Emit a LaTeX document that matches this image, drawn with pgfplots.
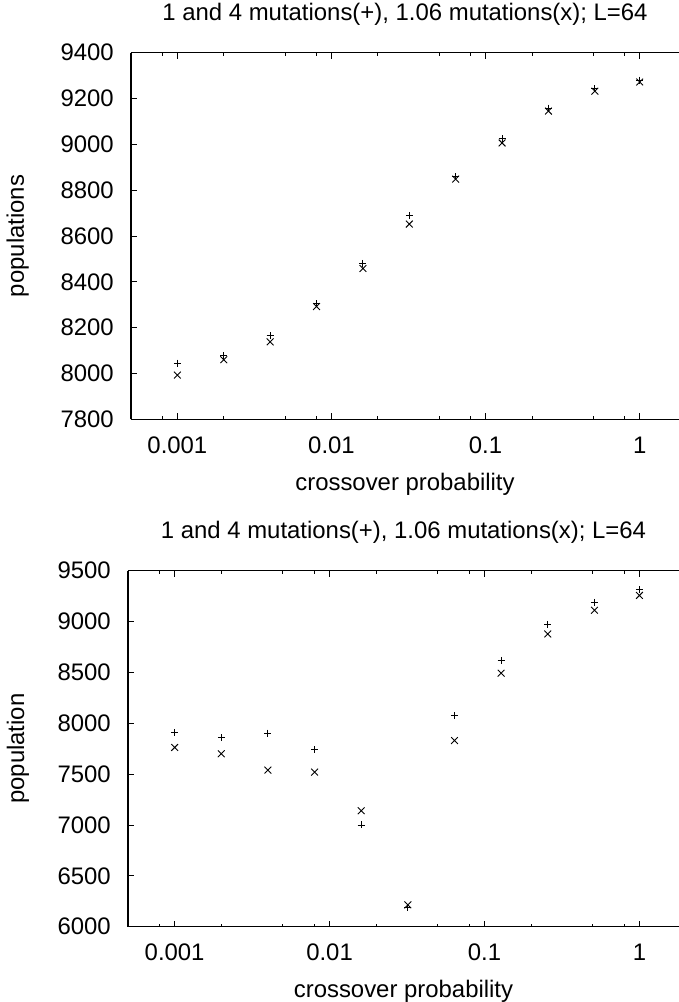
\documentclass[border=0pt]{standalone}
\usepackage{fontspec}
\setmainfont{Liberation Sans}
\usepackage{pgfplots}
\pgfplotsset{compat=1.18}

\pgfplotstableread{
x      y
0.001  8045
0.002  8078
0.004  8165
0.008  8305
0.016  8480
0.032  8688
0.064  8858
0.128  9025
0.256  9158
0.512  9243
1      9280
}\topplus
\pgfplotstableread{
x      y
0.001  7993
0.002  8060
0.004  8138
0.008  8292
0.016  8458
0.032  8652
0.064  8848
0.128  9006
0.256  9145
0.512  9232
1      9272
}\topcross
\pgfplotstableread{
x      y
0.001  7905
0.002  7858
0.004  7903
0.008  7742
0.016  7000
0.032  6187
0.064  8072
0.128  8619
0.256  8969
0.512  9189
1      9315
}\botplus
\pgfplotstableread{
x      y
0.001  7762
0.002  7700
0.004  7540
0.008  7520
0.016  7140
0.032  6215
0.064  7830
0.128  8492
0.256  8878
0.512  9111
1      9257
}\botcross

\pgfplotsset{
  gp/.style={
    scale only axis,
    font=\fontsize{24}{28}\selectfont,
    xmin=0.0005, xmax=1.8,
    xtick={0.001,0.01,0.1,1},
    xticklabels={0.001,0.01,0.1,1},
    minor xtick={0.0008,0.002,0.005,0.008,0.02,0.05,0.08,0.2,0.5,0.8},
    axis x line*=box, axis y line*=left,
    axis line style={line width=1.1bp, black},
    tick style={line width=0.9bp, black},
    major tick length=6bp, minor tick length=3bp,
    tick align=inside,
    scaled y ticks=false,
    /pgf/number format/1000 sep={},
    /pgf/number format/assume math mode=true,
    xticklabel style={anchor=base, yshift=-34bp, inner sep=0pt},
    yticklabel style={anchor=east, xshift=-17bp, inner sep=0pt},
    title style={at={(axis description cs:0.5,1)}, anchor=base, yshift=26.5bp, inner sep=0pt},
    xlabel style={at={(axis description cs:0.5,0)}, anchor=base, yshift=-71bp, inner sep=0pt},
    ylabel style={anchor=base, inner sep=0pt},
    xlabel={crossover probability},
    title={1 and 4 mutations(+), 1.06 mutations(x); L=64},
    clip=false,
  },
  pplus/.style={only marks, mark=+, mark size=3.5bp, line width=0.9bp, black},
  pcross/.style={only marks, mark=x, mark size=4.8bp, line width=0.9bp, black},
}

\begin{document}
\begin{tikzpicture}[x=1bp, y=1bp]
\useasboundingbox (0,0) rectangle (679,1002);

% upper panel
\begin{semilogxaxis}[gp,
    at={(131bp,582.7bp)}, anchor=south west,
    width=548bp, height=366.6bp,
    ymin=7800, ymax=9400,
    ytick={7800,8000,...,9400},
    ylabel={populations},
    ylabel style={at={(axis description cs:-0.1953,0.5)}},
]
\addplot[pplus] table[x=x, y=y] {\topplus};
\addplot[pcross] table[x=x, y=y] {\topcross};
\end{semilogxaxis}

% lower panel
\begin{semilogxaxis}[gp,
    at={(128bp,75.3bp)}, anchor=south west,
    width=551bp, height=356bp,
    ymin=6000, ymax=9500,
    ytick={6000,6500,...,9500},
    ylabel={population},
    ylabel style={at={(axis description cs:-0.1887,0.5)}},
]
\addplot[pplus] table[x=x, y=y] {\botplus};
\addplot[pcross] table[x=x, y=y] {\botcross};
\end{semilogxaxis}
\end{tikzpicture}
\end{document}
